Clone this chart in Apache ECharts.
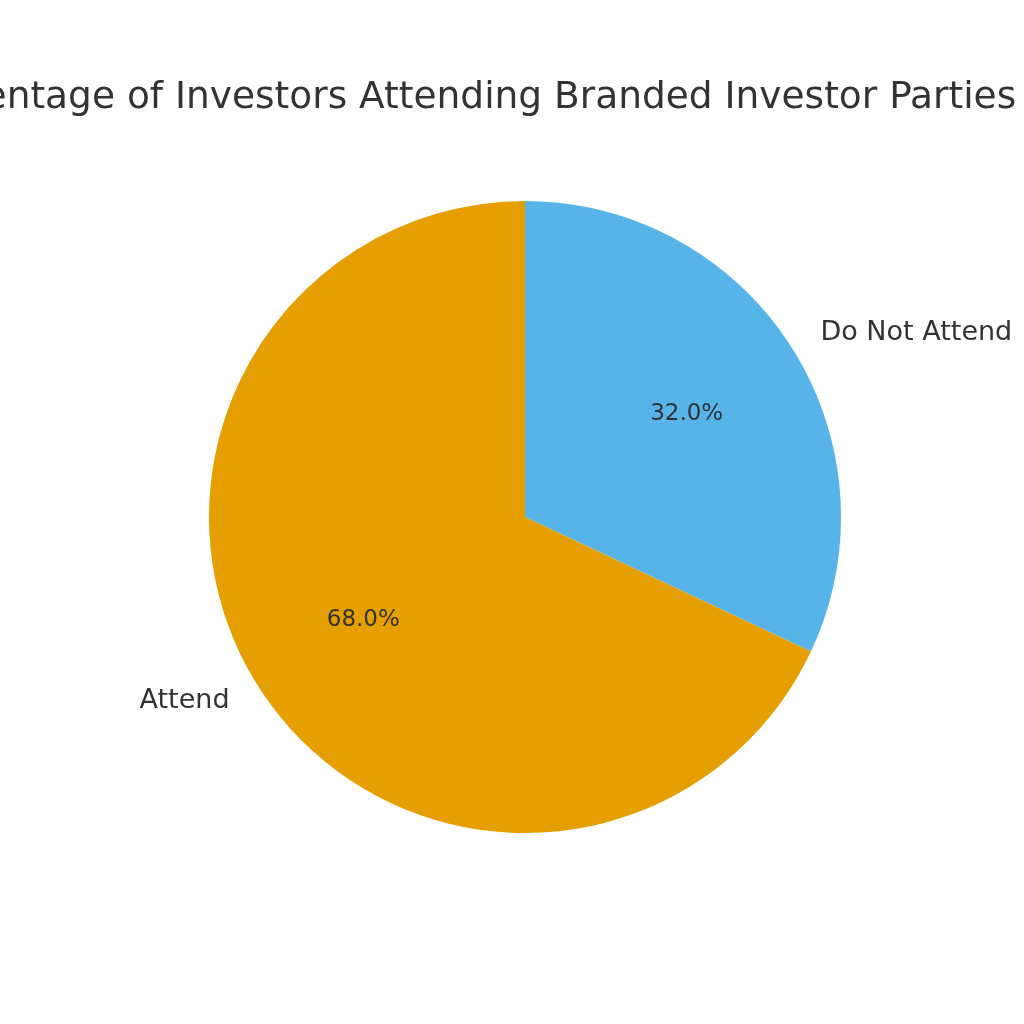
<!DOCTYPE html>
<html>
<head>
<meta charset="utf-8">
<script src="https://cdn.jsdelivr.net/npm/echarts@6/dist/echarts.min.js"></script>
<style>html,body{margin:0;padding:0;background:#fff}#CajaGrafico{width:1024px;height:1024px}</style>
</head>
<body>
<div id="CajaGrafico"></div>
<script>
var categories = ['Do Not Attend', 'Attend'];
var values = [32, 68];
var colors = ['#56B4E9', '#E69F00'];

var chart = echarts.init(document.getElementById('CajaGrafico'));
var pieData = categories.map(function (name, i) {
  return { value: values[i], name: name, itemStyle: { color: colors[i] } };
});
var pctData = categories.map(function (name, i) {
  return { value: values[i], name: name };
});

var option = {
  animation: false,
  title: {
    text: 'Percentage of Investors Attending Branded Investor Parties',
    left: -101,
    top: 74,
    textStyle: { fontFamily: 'DejaVu Sans', fontSize: 37.5, fontWeight: 'normal', color: '#333333' }
  },
  series: [
    {
      type: 'pie',
      center: [525, 517],
      radius: [0, 316],
      startAngle: 90,
      clockwise: true,
      label: {
        position: 'outside',
        fontFamily: 'DejaVu Sans',
        fontSize: 27,
        color: '#333333',
        overflow: 'none',
        formatter: '{b}'
      },
      labelLine: { show: false, length: 28, length2: 0 },
      data: pieData
    },
    {
      type: 'pie',
      center: [525, 517],
      radius: [0, 377],
      startAngle: 90,
      clockwise: true,
      silent: true,
      itemStyle: { color: 'rgba(0,0,0,0)' },
      label: {
        position: 'inside',
        fontFamily: 'DejaVu Sans',
        fontSize: 23,
        color: '#333333',
        formatter: function (p) { return p.value.toFixed(1) + '%'; }
      },
      labelLine: { show: false },
      data: pctData
    }
  ]
};
chart.setOption(option);
</script>
</body>
</html>
